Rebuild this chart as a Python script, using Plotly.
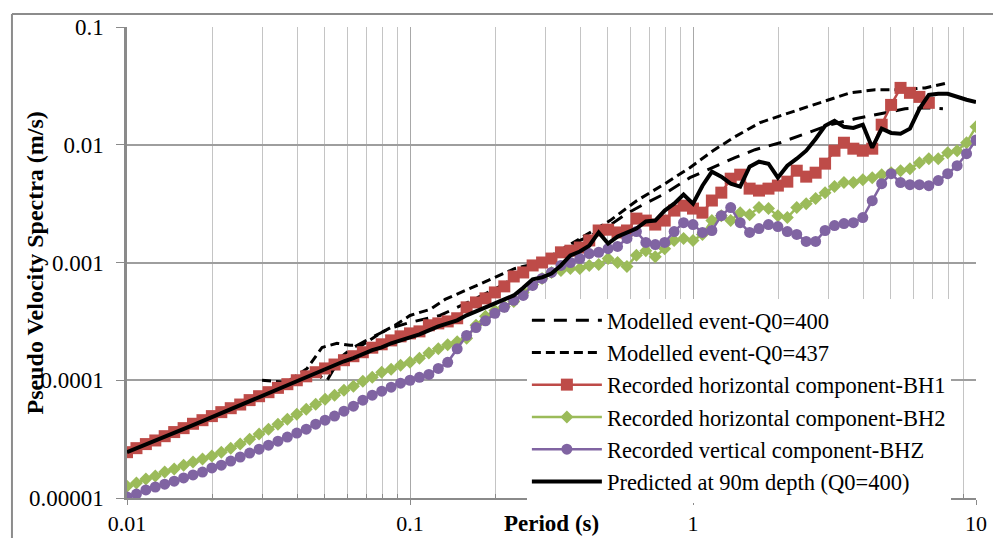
import plotly.graph_objects as go

# ---------------- data ----------------
period = [0.01, 0.0108, 0.01166, 0.01259, 0.01359, 0.01468, 0.01585, 0.01711, 0.01848, 0.01995,
          0.02154, 0.02326, 0.02512, 0.02712, 0.02929, 0.03162, 0.03415, 0.03687, 0.03981, 0.04299,
          0.04642, 0.05012, 0.05412, 0.05843, 0.0631, 0.06813, 0.07356, 0.07943, 0.08577, 0.09261,
          0.1, 0.108, 0.1166, 0.1259, 0.1359, 0.1468, 0.1585, 0.1711, 0.1848, 0.1995,
          0.2154, 0.2326, 0.2512, 0.2712, 0.2929, 0.3162, 0.3415, 0.3687, 0.3981, 0.4299,
          0.4642, 0.5012, 0.5412, 0.5843, 0.631, 0.6813, 0.7356, 0.7943, 0.8577, 0.9261,
          1.0, 1.08, 1.166, 1.259, 1.359, 1.468, 1.585, 1.711, 1.848, 1.995,
          2.154, 2.326, 2.512, 2.712, 2.929, 3.162, 3.415, 3.687, 3.981, 4.299,
          4.642, 5.012, 5.412, 5.843, 6.31, 6.813, 7.356, 7.943, 8.577, 9.261, 10.0]

bh1 = [2.45e-5, 2.65e-5, 2.87e-5, 3.08e-5, 3.35e-5, 3.63e-5, 3.92e-5, 4.27e-5, 4.58e-5, 4.96e-5,
       5.36e-5, 5.79e-5, 6.22e-5, 6.78e-5, 7.32e-5, 7.92e-5, 8.62e-5, 9.26e-5, 1.00e-4, 1.08e-4,
       1.17e-4, 1.26e-4, 1.36e-4, 1.48e-4, 1.60e-4, 1.73e-4, 1.89e-4, 2.02e-4, 2.18e-4, 2.36e-4,
       2.50e-4, 2.60e-4, 2.93e-4, 3.04e-4, 3.16e-4, 3.36e-4, 4.16e-4, 4.58e-4, 4.96e-4, 5.57e-4,
       6.27e-4, 7.61e-4, 8.23e-4, 9.44e-4, 1.00e-3, 1.08e-3, 1.22e-3, 1.26e-3, 1.34e-3, 1.54e-3,
       1.87e-3, 1.90e-3, 1.80e-3, 1.87e-3, 2.36e-3, 2.27e-3, 2.10e-3, 2.27e-3, 2.76e-3, 3.04e-3,
       2.87e-3, 2.65e-3, 3.36e-3, 3.92e-3, 5.15e-3, 5.57e-3, 4.24e-3, 4.08e-3, 4.24e-3, 4.50e-3,
       4.86e-3, 6.02e-3, 5.36e-3, 5.79e-3, 6.91e-3, 8.90e-3, 1.04e-2, 9.26e-3, 8.90e-3, 9.26e-3,
       1.48e-2, 2.18e-2, 3.04e-2, 2.76e-2, 2.55e-2, 2.27e-2]

bh2 = [1.26e-5, 1.34e-5, 1.45e-5, 1.54e-5, 1.66e-5, 1.76e-5, 1.90e-5, 2.02e-5, 2.14e-5, 2.27e-5,
       2.45e-5, 2.65e-5, 2.87e-5, 3.16e-5, 3.49e-5, 3.84e-5, 4.24e-5, 4.67e-5, 5.15e-5, 5.68e-5,
       6.26e-5, 6.90e-5, 7.47e-5, 8.23e-5, 8.90e-5, 9.81e-5, 1.06e-4, 1.17e-4, 1.24e-4, 1.34e-4,
       1.42e-4, 1.54e-4, 1.70e-4, 1.85e-4, 2.00e-4, 2.12e-4, 2.27e-4, 2.93e-4, 3.49e-4, 3.92e-4,
       4.24e-4, 4.67e-4, 5.57e-4, 6.51e-4, 7.32e-4, 8.23e-4, 8.56e-4, 8.90e-4, 8.90e-4, 9.44e-4,
       9.62e-4, 1.08e-3, 1.00e-3, 9.25e-4, 1.15e-3, 1.26e-3, 1.12e-3, 1.31e-3, 1.54e-3, 1.60e-3,
       1.54e-3, 1.73e-3, 2.27e-3, 2.50e-3, 2.27e-3, 2.65e-3, 2.55e-3, 2.93e-3, 2.87e-3, 2.50e-3,
       2.41e-3, 2.93e-3, 3.16e-3, 3.49e-3, 3.92e-3, 4.41e-3, 4.77e-3, 4.77e-3, 5.05e-3, 5.25e-3,
       5.57e-3, 5.79e-3, 6.02e-3, 6.26e-3, 7.04e-3, 7.61e-3, 7.61e-3, 8.56e-3, 8.90e-3, 1.04e-2,
       1.42e-2]

bhz = [1.02e-5, 1.08e-5, 1.17e-5, 1.24e-5, 1.31e-5, 1.39e-5, 1.48e-5, 1.57e-5, 1.66e-5, 1.80e-5,
       1.90e-5, 2.06e-5, 2.23e-5, 2.41e-5, 2.60e-5, 2.81e-5, 3.04e-5, 3.29e-5, 3.56e-5, 3.84e-5,
       4.24e-5, 4.58e-5, 4.96e-5, 5.46e-5, 6.02e-5, 6.77e-5, 7.47e-5, 8.07e-5, 8.73e-5, 9.44e-5,
       1.00e-4, 1.06e-4, 1.12e-4, 1.26e-4, 1.42e-4, 1.85e-4, 2.40e-4, 2.80e-4, 3.20e-4, 3.70e-4,
       4.16e-4, 4.77e-4, 5.25e-4, 6.39e-4, 7.32e-4, 8.23e-4, 9.44e-4, 1.00e-3, 1.08e-3, 1.19e-3,
       1.22e-3, 1.31e-3, 1.37e-3, 1.60e-3, 1.83e-3, 1.48e-3, 1.42e-3, 1.48e-3, 1.83e-3, 2.18e-3,
       2.10e-3, 1.80e-3, 1.87e-3, 2.50e-3, 2.93e-3, 2.18e-3, 1.80e-3, 1.94e-3, 2.10e-3, 2.02e-3,
       1.83e-3, 1.73e-3, 1.51e-3, 1.51e-3, 1.87e-3, 2.06e-3, 2.14e-3, 2.18e-3, 2.41e-3, 3.35e-3,
       4.67e-3, 5.68e-3, 4.77e-3, 4.58e-3, 4.58e-3, 4.49e-3, 4.96e-3, 5.68e-3, 6.64e-3, 8.39e-3,
       1.10e-2]

predicted = [2.45e-5, 2.65e-5, 2.87e-5, 3.10e-5, 3.35e-5, 3.63e-5, 3.92e-5, 4.16e-5, 4.49e-5, 4.86e-5,
             5.25e-5, 5.68e-5, 6.14e-5, 6.64e-5, 7.18e-5, 7.76e-5, 8.39e-5, 9.07e-5, 9.81e-5, 1.06e-4,
             1.15e-4, 1.24e-4, 1.34e-4, 1.45e-4, 1.54e-4, 1.66e-4, 1.80e-4, 1.90e-4, 2.06e-4, 2.18e-4,
             2.31e-4, 2.45e-4, 2.65e-4, 2.87e-4, 3.04e-4, 3.23e-4, 3.56e-4, 3.84e-4, 4.16e-4, 4.49e-4,
             4.86e-4, 5.25e-4, 6.10e-4, 7.20e-4, 7.47e-4, 8.07e-4, 9.44e-4, 1.15e-3, 1.24e-3, 1.39e-3,
             1.80e-3, 1.45e-3, 1.66e-3, 1.80e-3, 1.94e-3, 2.23e-3, 2.27e-3, 2.76e-3, 3.16e-3, 3.77e-3,
             3.16e-3, 4.49e-3, 5.91e-3, 5.36e-3, 4.67e-3, 4.41e-3, 6.51e-3, 7.18e-3, 6.90e-3, 5.25e-3,
             6.64e-3, 7.61e-3, 8.90e-3, 1.12e-2, 1.45e-2, 1.60e-2, 1.42e-2, 1.39e-2, 1.48e-2, 9.44e-3,
             1.37e-2, 1.26e-2, 1.24e-2, 1.37e-2, 2.02e-2, 2.65e-2, 2.71e-2, 2.71e-2, 2.55e-2, 2.41e-2,
             2.31e-2]

period_q437 = [0.030, 0.0367, 0.0433, 0.0489, 0.0552, 0.0614, 0.0676, 0.0783, 0.0885, 0.1,
               0.1177, 0.133, 0.163, 0.192, 0.235, 0.288, 0.339, 0.415, 0.509, 0.634,
               0.796, 0.975, 1.177, 1.407, 1.725, 2.03, 2.49, 2.97, 3.59, 4.40,
               5.38, 6.61, 7.96]
q437 = [1.00e-4, 9.6e-5, 1.26e-4, 1.90e-4, 2.06e-4, 1.98e-4, 1.98e-4, 2.50e-4, 2.93e-4, 3.55e-4,
        4.00e-4, 4.86e-4, 6.02e-4, 7.18e-4, 8.90e-4, 1.00e-3, 1.26e-3, 1.69e-3, 2.27e-3, 3.36e-3,
        4.67e-3, 6.39e-3, 8.90e-3, 1.17e-2, 1.54e-2, 1.76e-2, 2.06e-2, 2.36e-2, 2.76e-2, 2.93e-2,
        2.93e-2, 3.04e-2, 3.36e-2]

period_q400 = [0.0454, 0.0481, 0.0505, 0.0535, 0.0575, 0.0624, 0.0722, 0.0849, 0.1, 0.1276,
               0.163, 0.208, 0.265, 0.325, 0.399, 0.489, 0.575, 0.676, 0.796, 0.975,
               1.148, 1.407, 1.656, 2.03, 2.49, 3.05, 3.74, 4.58, 5.61, 6.61, 7.64]
q400 = [1.26e-4, 1.08e-4, 9.6e-5, 1.22e-4, 1.60e-4, 1.87e-4, 2.27e-4, 2.76e-4, 3.10e-4, 3.55e-4,
        4.67e-4, 6.27e-4, 8.90e-4, 1.15e-3, 1.54e-3, 1.94e-3, 2.55e-3, 3.16e-3, 3.85e-3, 5.25e-3,
        6.27e-3, 7.77e-3, 9.08e-3, 1.04e-2, 1.24e-2, 1.48e-2, 1.66e-2, 1.83e-2, 2.02e-2, 2.06e-2,
        2.02e-2]

x_ticks = [0.01, 0.1, 1, 10]
x_ticklabels = ["0.01", "0.1", "1", "10"]
x_minor = [0.02, 0.03, 0.04, 0.05, 0.06, 0.07, 0.08, 0.09,
           0.2, 0.3, 0.4, 0.5, 0.6, 0.7, 0.8, 0.9,
           2, 3, 4, 5, 6, 7, 8, 9]
y_ticks = [1e-5, 1e-4, 1e-3, 1e-2, 1e-1]
y_ticklabels = ["0.00001", "0.0001", "0.001", "0.01", "0.1"]

# ---------------- figure ----------------
FONT = "Liberation Serif"
FS = 24
fig = go.Figure()

fig.add_trace(go.Scatter(x=period_q400, y=q400, mode="lines", name="Modelled event-Q0=400",
                         line=dict(color="black", width=3, dash="13px,9px")))
fig.add_trace(go.Scatter(x=period_q437, y=q437, mode="lines", name="Modelled event-Q0=437",
                         line=dict(color="black", width=3, dash="9px,5px")))
fig.add_trace(go.Scatter(x=period[:len(bh1)], y=bh1, mode="lines+markers",
                         name="Recorded horizontal component-BH1",
                         line=dict(color="#BE4B48", width=2.5),
                         marker=dict(symbol="square", size=12, color="#BE4B48")))
fig.add_trace(go.Scatter(x=period[:len(bh2)], y=bh2, mode="lines+markers",
                         name="Recorded horizontal component-BH2",
                         line=dict(color="#9BBB59", width=2.5),
                         marker=dict(symbol="diamond", size=10, color="#9BBB59")))
fig.add_trace(go.Scatter(x=period[:len(bhz)], y=bhz, mode="lines+markers",
                         name="Recorded vertical component-BHZ",
                         line=dict(color="#8064A2", width=2.5),
                         marker=dict(symbol="circle", size=11, color="#8064A2")))
fig.add_trace(go.Scatter(x=period[:len(predicted)], y=predicted, mode="lines",
                         name="Predicted at 90m depth (Q0=400)",
                         line=dict(color="black", width=4)))

fig.update_layout(
    width=993, height=538,
    margin=dict(l=127, r=17, t=27, b=40, autoexpand=False),
    paper_bgcolor="white", plot_bgcolor="white",
    font=dict(family=FONT, size=FS, color="black"),
    legend=dict(x=0.471, y=0.4225, xanchor="left", yanchor="top",
                bgcolor="white", borderwidth=0, itemwidth=70,
                font=dict(family=FONT, size=22.5, color="black"), tracegroupgap=0),
)

fig.update_xaxes(type="log", range=[-2, 1], tickmode="array", tickvals=x_ticks, ticktext=x_ticklabels,
                 automargin=False,
                 showgrid=True, gridcolor="#a8a8a8", gridwidth=1.2,
                 minor=dict(tickmode="array", tickvals=x_minor, showgrid=True, gridcolor="#c4c4c4",
                            gridwidth=1, ticks="inside", ticklen=4, tickcolor="#8a8a8a"),
                 showline=True, linecolor="#8a8a8a", linewidth=1.5,
                 ticks="outside", ticklen=5, tickcolor="#8a8a8a", zeroline=False,
                 ticklabelstandoff=0, tickfont=dict(family=FONT, size=22, color="black"))
fig.update_yaxes(type="log", range=[-5, -1], tickmode="array", tickvals=y_ticks, ticktext=y_ticklabels,
                 automargin=False,
                 showgrid=True, gridcolor="#9e9e9e", gridwidth=1.5,
                 showline=True, linecolor="#8a8a8a", linewidth=2.5,
                 ticks="outside", ticklen=8, tickcolor="#8a8a8a", zeroline=False,
                 ticklabelstandoff=8, tickfont=dict(family=FONT, size=23, color="black"))

# axis titles
fig.add_annotation(text="<b>Pseudo Velocity Spectra (m/s)</b>", xref="paper", yref="paper",
                   x=-0.1084, y=0.5, xanchor="center", yanchor="middle", textangle=-90,
                   showarrow=False, font=dict(family=FONT, size=FS, color="black"))
fig.add_annotation(text="<b>Period (s)</b>", xref="paper", yref="paper",
                   x=0.5, y=-0.055, xanchor="center", yanchor="middle",
                   showarrow=False, font=dict(family=FONT, size=23, color="black"))

# outer chart frame (partially visible)
fig.add_shape(type="line", xref="paper", yref="paper", x0=-0.1355, x1=1.03, y0=1.0276, y1=1.0276,
              line=dict(color="#8c8c8c", width=2))
fig.add_shape(type="line", xref="paper", yref="paper", x0=-0.1355, x1=-0.1355, y0=1.0276, y1=-0.1,
              line=dict(color="#8c8c8c", width=2))

fig.write_html("out.html", config={"responsive": False, "displayModeBar": False},
               post_script="document.body.style.margin='0';document.body.style.overflow='hidden';")
